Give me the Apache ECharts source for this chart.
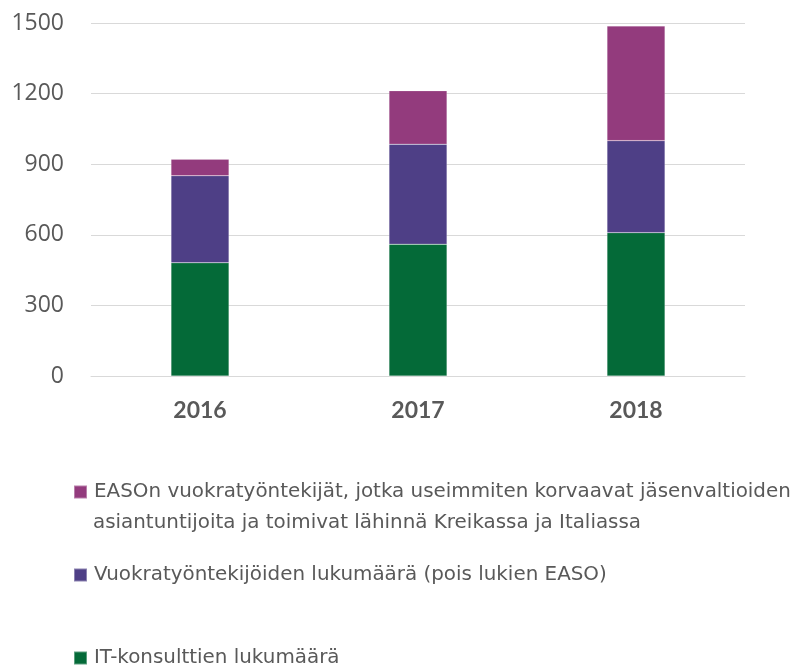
<!DOCTYPE html>
<html>
<head>
<meta charset="utf-8">
<script src="https://cdn.jsdelivr.net/npm/echarts@6/dist/echarts.min.js"></script>
<style>html,body{margin:0;padding:0;background:#fff}#c{width:790px;height:666px}</style>
</head>
<body>
<div id="c"></div>
<script>
const categories = ['2016', '2017', '2018'];
const itConsultants = [481, 560, 609];
const temporaryStaff = [370, 425, 391];
const easoStaff = [70, 227, 487];
const yTicks = [0, 300, 600, 900, 1200, 1500];
const seriesNames = [
  'EASOn vuokratyöntekijät, jotka useimmiten korvaavat jäsenvaltioiden',
  'Vuokratyöntekijöiden lukumäärä (pois lukien EASO)',
  'IT-konsulttien lukumäärä'
];
const secondLine = 'asiantuntijoita ja toimivat lähinnä Kreikassa ja Italiassa';
const colors = ['#933B7D', '#4E3F86', '#046A38'];

const FONT = 'Open Sans';
const LFONT = 'DejaVu Sans';
const LFS = 19.9;
const chart = echarts.init(document.getElementById('c'));
const legendBase = {
  orient: 'vertical', left: 73, itemWidth: 13, itemHeight: 13, itemGap: 0,
  icon: 'rect', padding: 0,
  textStyle: { fontFamily: LFONT, fontSize: LFS, color: '#595959', padding: [0, 0, 0, 2] }
};
chart.setOption({
  animation: false,
  grid: { left: 91, right: 45, top: 23, bottom: 290, containLabel: false },
  legend: [
    Object.assign({}, legendBase, { top: 482, data: [seriesNames[0]] }),
    Object.assign({}, legendBase, { top: 565, data: [seriesNames[1]] }),
    Object.assign({}, legendBase, { top: 648, data: [seriesNames[2]] })
  ],
  graphic: [{
    type: 'text', left: 93, top: 513,
    style: { text: secondLine, font: LFS + 'px "' + LFONT + '"', fill: '#595959' }
  }],
  xAxis: {
    type: 'category', data: categories,
    axisLine: { show: true, lineStyle: { color: '#D9D9D9' } },
    axisTick: { show: false },
    axisLabel: { fontFamily: 'Lato', fontSize: 23, fontWeight: 'bold', color: '#595959', margin: 23 }
  },
  yAxis: {
    type: 'value', min: yTicks[0], max: yTicks[yTicks.length - 1], interval: 300,
    axisLine: { show: false }, axisTick: { show: false },
    splitLine: { lineStyle: { color: '#D9D9D9', width: 1 } },
    axisLabel: { fontFamily: FONT, fontSize: 23, color: '#595959', margin: 27,
      formatter: v => String(v) }
  },
  series: [
    { name: seriesNames[2], type: 'bar', stack: 't', data: itConsultants, barWidth: 58,
      itemStyle: { color: colors[2], borderColor: 'rgba(255,255,255,0.35)', borderWidth: 0.5 } },
    { name: seriesNames[1], type: 'bar', stack: 't', data: temporaryStaff, barWidth: 58,
      itemStyle: { color: colors[1], borderColor: 'rgba(255,255,255,0.35)', borderWidth: 0.5 } },
    { name: seriesNames[0], type: 'bar', stack: 't', data: easoStaff, barWidth: 58,
      itemStyle: { color: colors[0], borderColor: 'rgba(255,255,255,0.35)', borderWidth: 0.5 } }
  ]
});
</script>
</body>
</html>
